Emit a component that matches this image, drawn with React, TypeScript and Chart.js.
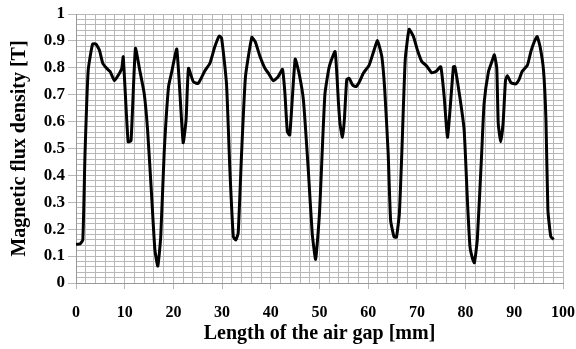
import React, { useEffect, useRef } from "react";
import { Chart, registerables } from "chart.js";

Chart.register(...registerables);

const gapMm = [0, 0.8, 1.4, 1.85, 2.5, 3.4, 4.1, 4.8, 5.5, 6.3,
  7.0, 7.9, 8.7, 9.4, 9.7, 10.7, 11.3, 12.2, 13.1, 14.0,
  14.7, 15.5, 16.2, 16.8, 17.4, 18.1, 19.0, 19.6, 20.7, 22.0,
  22.6, 23.1, 24.1, 25.1, 26.5, 27.5, 28.5, 29.4, 29.9, 30.9,
  31.6, 32.3, 32.8, 33.3, 34.0, 34.8, 36.1, 36.8, 37.8, 38.8,
  39.5, 40.5, 41.5, 42.4, 42.9, 43.4, 43.9, 45.0, 45.8, 46.7,
  47.7, 48.5, 49.2, 50.0, 51.1, 52.0, 53.2, 53.9, 54.2, 54.7,
  55.1, 55.6, 56.1, 56.8, 57.5, 58.2, 59.0, 60.2, 61.0, 61.9,
  62.8, 63.4, 64.1, 64.6, 65.3, 65.8, 66.4, 66.9, 67.6, 68.4,
  69.3, 70.1, 71.0, 72.0, 73.0, 73.9, 74.9, 75.6, 76.3, 77.5,
  77.8, 78.8, 79.7, 80.4, 80.9, 81.4, 81.8, 82.4, 83.3, 83.8,
  84.7, 85.4, 85.9, 86.4, 86.7, 87.2, 87.7, 88.2, 88.6, 89.3,
  90.3, 91.0, 91.6, 92.7, 93.4, 94.1, 94.7, 95.3, 96.0, 96.5,
  96.9, 97.5, 98.1];

const fluxT = [0.144, 0.145, 0.16, 0.48, 0.79, 0.888, 0.888, 0.866, 0.817, 0.798,
  0.786, 0.752, 0.773, 0.798, 0.841, 0.525, 0.529, 0.872, 0.79, 0.705,
  0.569, 0.333, 0.123, 0.063, 0.172, 0.482, 0.73, 0.78, 0.869, 0.522,
  0.606, 0.798, 0.748, 0.742, 0.79, 0.817, 0.878, 0.918, 0.91, 0.742,
  0.42, 0.172, 0.16, 0.185, 0.482, 0.767, 0.913, 0.897, 0.841, 0.798,
  0.78, 0.752, 0.767, 0.794, 0.705, 0.562, 0.55, 0.832, 0.78, 0.68,
  0.42, 0.185, 0.088, 0.26, 0.699, 0.804, 0.86, 0.668, 0.594, 0.542,
  0.606, 0.757, 0.761, 0.736, 0.73, 0.748, 0.78, 0.81, 0.854, 0.901,
  0.841, 0.717, 0.482, 0.234, 0.172, 0.17, 0.259, 0.482, 0.829, 0.943,
  0.916, 0.866, 0.823, 0.807, 0.782, 0.786, 0.804, 0.693, 0.542, 0.804,
  0.804, 0.693, 0.569, 0.296, 0.135, 0.092, 0.075, 0.16, 0.482, 0.668,
  0.786, 0.823, 0.848, 0.798, 0.594, 0.525, 0.594, 0.755, 0.77, 0.745,
  0.74, 0.757, 0.786, 0.81, 0.86, 0.897, 0.916, 0.878, 0.79, 0.606,
  0.271, 0.172, 0.162];

const xAxisTitle = "Length of the air gap [mm]";
const yAxisTitle = "Magnetic flux density [T]";

const FONT = "'Liberation Serif', 'Times New Roman', serif";
const GRID = "#b8b8b8";

export default function App() {
  const ref = useRef<HTMLCanvasElement>(null);
  useEffect(() => {
    if (!ref.current) return;
    const points = gapMm.map((x, i) => ({ x, y: fluxT[i] }));
    const chart = new Chart(ref.current, {
      type: "line",
      data: {
        datasets: [
          {
            data: points,
            borderColor: "#000000",
            borderWidth: 3,
            pointRadius: 0,
            tension: 0.15,
            fill: false,
          },
        ],
      },
      options: {
        animation: false,
        responsive: true,
        maintainAspectRatio: false,
        layout: { padding: { left: 0, right: 13, top: 14, bottom: 0 } },
        plugins: { legend: { display: false }, tooltip: { enabled: false } },
        scales: {
          x: {
            type: "linear",
            min: 0,
            max: 100,
            afterFit: (s: any) => {
              s.height = 66;
              s.paddingLeft = 0;
              s.paddingRight = 0;
            },
            ticks: {
              stepSize: 2,
              autoSkip: false,
              maxRotation: 0,
              padding: 14,
              color: "#000",
              font: { family: FONT, size: 16, weight: "bold" },
              callback: (v: any) => (Math.round(v) % 10 === 0 ? String(Math.round(v)) : ""),
            },
            grid: {
              color: GRID,
              lineWidth: 1,
              tickLength: 6,
              tickColor: (ctx: any) =>
                ctx.tick && Math.round(ctx.tick.value) % 10 === 0 ? GRID : "rgba(0,0,0,0)",
            },
            border: { color: "#999999", width: 1 },
            title: {
              display: true,
              text: xAxisTitle,
              color: "#000",
              font: { family: FONT, size: 20, weight: "bold" },
              padding: { top: 0, bottom: 3 },
            },
          },
          y: {
            type: "linear",
            min: 0,
            max: 1,
            afterFit: (s: any) => {
              s.width = 76;
              s.paddingTop = 0;
              s.paddingBottom = 0;
            },
            ticks: {
              stepSize: 0.02,
              autoSkip: false,
              padding: 3,
              color: "#000",
              font: { family: FONT, size: 17, weight: "bold" },
              callback: (v: any) => {
                const k = Math.round(v * 100);
                return k % 10 === 0 ? String(k / 100) : "";
              },
            },
            grid: {
              color: GRID,
              lineWidth: 1,
              tickLength: 8,
              tickColor: (ctx: any) =>
                ctx.tick && Math.round(ctx.tick.value * 100) % 10 === 0 ? GRID : "rgba(0,0,0,0)",
            },
            border: { color: "#999999", width: 1 },
            title: {
              display: true,
              text: yAxisTitle,
              color: "#000",
              font: { family: FONT, size: 20, weight: "bold" },
              padding: { top: 8, bottom: 0 },
            },
          },
        },
      },
    });
    return () => chart.destroy();
  }, []);
  return (
    <div style={{ position: "fixed", left: 0, top: 0, width: 576, height: 349, background: "#fff" }}>
      <canvas ref={ref} />
    </div>
  );
}
